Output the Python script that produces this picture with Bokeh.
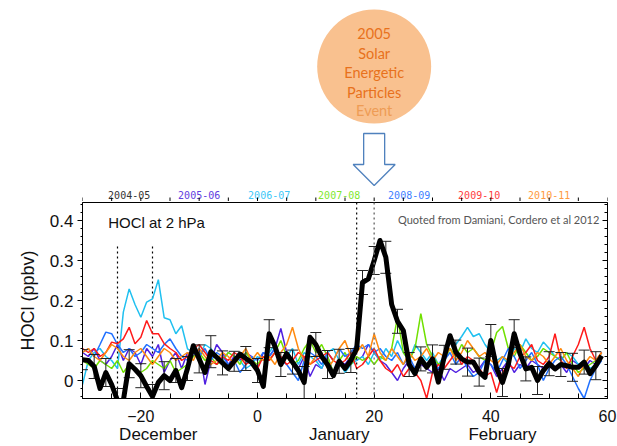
from bokeh.plotting import figure
from bokeh.models import (Range1d, LinearAxis, FixedTicker, SingleIntervalTicker, Label, Span,
                          CustomJSTickFormatter)
from bokeh.layouts import column
from bokeh.embed import file_html
from bokeh.resources import INLINE
from bokeh.core.properties import value

# ---------------- data ----------------
days = list(range(-30, 60))

hocl_2004_05 = [0.052, 0.050, 0.035, -0.020, 0.020, -0.010, -0.050, -0.050, 0.042, 0.028,
                0.012, -0.015, -0.040, -0.005, 0.012, 0.000, 0.025, -0.018, 0.030, 0.087,
                0.054, 0.020, 0.072, 0.058, 0.044, 0.030, 0.048, 0.066, 0.055, 0.045,
                0.025, -0.015, 0.117, 0.085, 0.040, 0.067, 0.046, 0.025, -0.005, 0.108,
                0.090, 0.060, 0.040, 0.012, 0.048, 0.030, 0.050, 0.080, 0.245, 0.254,
                0.300, 0.350, 0.308, 0.190, 0.148, 0.125, 0.040, 0.017, 0.054, 0.033,
                0.054, -0.004, 0.058, 0.112, 0.071, 0.054, 0.046, 0.046, 0.021, 0.008,
                0.100, 0.030, -0.005, 0.040, 0.117, 0.067, 0.029, 0.033, 0.000, 0.025,
                0.042, 0.029, 0.040, 0.037, 0.033, 0.033, 0.046, 0.017, 0.037, 0.062]

err_2004_05 = [0.025, 0, 0.03, 0, 0.035, 0, 0.03, 0, 0.035, 0,
               0.03, 0, 0.03, 0, 0.035, 0, 0.03, 0, 0.03, 0,
               0.035, 0, 0.04, 0, 0.03, 0, 0.025, 0, 0.03, 0,
               0.03, 0, 0.035, 0, 0.03, 0, 0.03, 0, 0.04, 0,
               0.03, 0, 0.035, 0, 0.03, 0, 0.03, 0, 0.03, 0,
               0.035, 0, 0.04, 0, 0.03, 0, 0.03, 0, 0.03, 0,
               0.035, 0, 0.03, 0, 0.03, 0, 0.035, 0, 0.035, 0,
               0.04, 0, 0.035, 0, 0.035, 0, 0.03, 0, 0.035, 0,
               0.03, 0, 0.03, 0, 0.035, 0, 0.03, 0, 0.035, 0]

hocl_2005_06 = [0.070, 0.060, 0.080, 0.050, 0.040, 0.060, 0.090, 0.050, 0.080, 0.070,
                0.040, 0.080, 0.060, 0.090, 0.020, 0.050, 0.070, 0.030, 0.070, 0.060,
                0.080, -0.010, 0.050, 0.090, 0.070, 0.040, 0.060, 0.050, 0.070, 0.060,
                0.030, 0.070, 0.060, 0.080, 0.130, 0.070, 0.050, 0.030, 0.060, 0.010,
                0.040, 0.030, 0.060, 0.020, 0.050, 0.040, 0.060, 0.050, 0.060, 0.090,
                0.070, 0.050, 0.040, 0.020, 0.000, 0.030, 0.050, 0.020, 0.040, 0.030,
                0.020, 0.030, 0.000, 0.030, 0.020, 0.030, 0.040, 0.020, 0.030, 0.050,
                0.040, 0.010, 0.030, 0.050, 0.020, 0.040, 0.030, 0.050, 0.040, 0.030,
                0.050, 0.030, 0.040, 0.020, 0.050, 0.040, 0.030, 0.050, 0.040, 0.060]

hocl_2006_07 = [-0.010, 0.050, 0.070, 0.080, 0.060, 0.050, 0.030, 0.171, 0.229, 0.190,
                0.158, 0.196, 0.204, 0.252, 0.157, 0.152, 0.117, 0.137, 0.079, 0.070,
                0.060, 0.090, 0.080, 0.060, 0.050, 0.070, 0.060, 0.050, 0.030, 0.040,
                0.060, 0.050, 0.070, 0.090, 0.050, 0.060, 0.080, 0.040, 0.070, 0.060,
                0.050, 0.030, 0.070, 0.080, 0.050, 0.020, 0.040, 0.050, 0.060, 0.040,
                0.070, 0.050, 0.080, 0.060, 0.100, 0.070, 0.050, 0.090, 0.070, 0.050,
                0.070, 0.040, 0.060, 0.104, 0.090, 0.110, 0.133, 0.110, 0.117, 0.090,
                0.070, 0.050, 0.060, 0.040, 0.080, 0.070, 0.104, 0.080, 0.070, 0.096,
                0.080, 0.060, 0.050, 0.070, 0.060, 0.040, 0.050, 0.030, 0.040, 0.070]

hocl_2007_08 = [0.050, 0.040, 0.030, 0.050, 0.040, 0.030, 0.050, 0.020, 0.040, 0.030,
                0.020, 0.030, 0.050, 0.040, 0.030, 0.050, 0.020, 0.030, 0.040, 0.060,
                0.070, 0.050, 0.060, 0.040, 0.050, 0.070, 0.060, 0.040, 0.070, 0.050,
                0.040, 0.060, 0.050, 0.070, 0.100, 0.060, 0.040, 0.050, 0.080, 0.100,
                0.070, 0.090, 0.060, 0.020, 0.050, 0.070, 0.040, 0.060, 0.050, 0.060,
                0.040, 0.060, 0.050, 0.080, 0.158, 0.070, 0.050, 0.080, 0.167, 0.090,
                0.060, 0.040, 0.050, 0.080, 0.060, 0.090, 0.070, 0.080, 0.060, 0.050,
                0.070, 0.120, 0.135, 0.080, 0.060, 0.090, 0.070, 0.050, 0.060, 0.080,
                0.070, 0.060, 0.050, 0.070, 0.040, 0.020, 0.030, 0.040, 0.050, 0.060]

hocl_2008_09 = [0.070, 0.080, 0.060, 0.090, 0.121, 0.117, 0.090, 0.070, 0.080, 0.060,
                0.070, 0.090, 0.080, 0.070, 0.090, 0.104, 0.080, 0.060, 0.050, 0.070,
                0.060, 0.080, 0.050, 0.070, 0.060, 0.040, 0.050, 0.020, 0.040, 0.060,
                0.050, 0.070, 0.060, 0.080, 0.050, 0.040, 0.020, 0.000, 0.050, 0.070,
                0.060, 0.040, 0.070, 0.050, 0.080, 0.060, 0.070, 0.090, 0.080, 0.090,
                0.070, 0.080, 0.060, 0.050, 0.070, 0.040, 0.060, 0.030, 0.050, 0.040,
                0.060, 0.030, 0.050, 0.070, 0.040, 0.060, 0.030, 0.010, 0.020, 0.050,
                0.040, 0.020, 0.050, 0.080, 0.060, 0.030, 0.050, 0.070, 0.040, 0.000,
                0.030, 0.050, 0.060, 0.040, 0.010, -0.020, -0.045, 0.000, 0.030, 0.050]

hocl_2009_10 = [0.080, 0.070, 0.080, 0.060, 0.070, 0.096, 0.092, 0.104, 0.133, 0.092,
                0.108, 0.150, 0.117, 0.117, 0.092, 0.080, 0.070, 0.050, 0.060, 0.080,
                0.090, 0.070, 0.050, 0.040, 0.060, 0.050, 0.070, 0.060, 0.040, 0.050,
                0.030, 0.060, 0.050, 0.070, 0.060, 0.040, 0.050, 0.070, 0.060, 0.040,
                0.050, 0.060, 0.070, 0.050, 0.040, 0.050, 0.070, 0.030, 0.040, 0.060,
                0.080, 0.050, 0.030, 0.020, 0.040, 0.010, 0.030, 0.020, 0.000, -0.045,
                0.020, 0.040, 0.030, 0.050, 0.070, 0.040, 0.060, 0.050, 0.030, 0.010,
                0.020, -0.030, 0.020, 0.040, 0.030, 0.060, 0.070, 0.090, 0.050, 0.040,
                0.060, 0.117, 0.050, 0.030, 0.060, 0.090, 0.133, 0.080, 0.050, 0.070]

hocl_2010_11 = [0.070, 0.080, 0.060, 0.050, 0.070, 0.090, 0.080, 0.060, 0.050, 0.070,
                0.080, 0.060, 0.040, 0.060, 0.080, 0.070, 0.050, 0.060, 0.070, 0.050,
                0.080, 0.060, 0.040, 0.050, 0.070, 0.060, 0.040, 0.060, 0.080, 0.050,
                0.070, 0.050, 0.060, 0.040, 0.070, 0.090, 0.133, 0.080, 0.050, 0.040,
                0.060, 0.070, 0.030, 0.050, 0.080, 0.100, 0.060, 0.070, 0.090, 0.060,
                0.117, 0.070, 0.050, 0.080, 0.060, 0.040, 0.070, 0.050, 0.060, 0.080,
                0.050, 0.070, 0.060, 0.080, 0.050, 0.070, 0.100, 0.080, 0.060, 0.070,
                0.050, 0.040, 0.060, 0.050, 0.070, 0.090, 0.060, 0.050, 0.070, 0.060,
                0.040, 0.060, 0.080, 0.050, 0.030, 0.010, 0.040, 0.060, 0.050, 0.070]

seasons = ["2004-05", "2005-06", "2006-07", "2007-08", "2008-09", "2009-10", "2010-11"]
season_label_x = [-22, -10, 2, 14, 26, 38, 50]
season_text_colors = ["#333333", "#6040e0", "#40c8f8", "#80e830", "#4080ff", "#ff4040", "#ff9a40"]
thin_series = [hocl_2005_06, hocl_2006_07, hocl_2007_08, hocl_2008_09, hocl_2009_10, hocl_2010_11]
thin_colors = ["#5020e0", "#20c0f0", "#70e000", "#2070ff", "#ff1a1a", "#ff8a10"]

month_names = ["December", "January", "February"]
month_x = [-17, 14, 42]

marker_days = [-24, -18]
marker_top = 0.335
full_marker_day = 17
sep_day = 20

event_lines = ["2005", "Solar", "Energetic", "Particles", "Event"]
event_colors = ["#e8711c", "#e8711c", "#e8711c", "#e8711c", "#ee9c55"]

FONT = "Liberation Sans"
X0, X1 = -30, 60
TOP_H = 201

# ---------------- main plot ----------------
xr = Range1d(X0, X1)
main = figure(x_range=xr, y_range=Range1d(-0.045, 0.445),
              frame_width=525, frame_height=196,
              min_border_left=82, min_border_right=10, min_border_top=1, min_border_bottom=0,
              toolbar_location=None, output_backend="svg")
main.grid.visible = False
main.outline_line_color = "black"
main.background_fill_color = "white"
main.border_fill_color = "white"

# left axis
ya = main.yaxis[0]
ya.ticker = SingleIntervalTicker(interval=0.1, num_minor_ticks=5)
ya.major_label_overrides = {0: "0"}
ya.major_label_text_font = FONT
ya.major_label_text_font_size = "17px"
ya.major_label_text_color = "#111111"
ya.major_tick_out = 5
ya.major_tick_in = 0
ya.minor_tick_out = 2
ya.minor_tick_in = 0
ya.major_label_standoff = 4
ya.axis_label = "HOCl (ppbv)"
ya.axis_label_text_font = FONT
ya.axis_label_text_font_size = "18px"
ya.axis_label_text_font_style = "normal"
ya.axis_label_text_color = "#111111"
ya.axis_label_standoff = 9

# bottom axis
xa = main.xaxis[0]
xa.ticker = SingleIntervalTicker(interval=20, num_minor_ticks=4)
xa.major_label_text_font = FONT
xa.major_label_text_font_size = "16px"
xa.major_label_text_color = "#111111"
xa.major_tick_in = 6
xa.major_tick_out = 0
xa.minor_tick_in = 5
xa.minor_tick_out = 0
xa.major_label_standoff = 11

month_axis = LinearAxis(ticker=FixedTicker(ticks=month_x),
                        major_label_overrides={m: n for m, n in zip(month_x, month_names)},
                        axis_line_color=None, major_tick_line_color=None, minor_tick_line_color=None,
                        major_tick_in=0, major_tick_out=0, major_label_standoff=0,
                        major_label_text_font=FONT, major_label_text_font_size="17px",
                        major_label_text_color="#111111")
main.add_layout(month_axis, "below")

right_axis = LinearAxis(ticker=SingleIntervalTicker(interval=0.1, num_minor_ticks=5),
                        formatter=CustomJSTickFormatter(code="return ''"), major_label_standoff=0,
                        major_tick_in=5, major_tick_out=0, minor_tick_in=3, minor_tick_out=0)
main.add_layout(right_axis, "right")

# event markers
main.segment(x0=marker_days, y0=[-0.045] * len(marker_days), x1=marker_days,
             y1=[marker_top] * len(marker_days), line_color="black", line_width=1.2, line_dash="2 3")
main.add_layout(Span(location=full_marker_day, dimension="height", line_color="black",
                     line_width=1.2, line_dash="2 3"))
main.add_layout(Span(location=sep_day, dimension="height", line_color="#777777",
                     line_width=1.5, line_dash="2 3"))

# other seasons
for vals, col in zip(thin_series, thin_colors):
    main.line(days, vals, line_color=col, line_width=1.5)

# error bars on 2004-05
ex = [d for d, e in zip(days, err_2004_05) if e > 0]
elo = [v - e for v, e in zip(hocl_2004_05, err_2004_05) if e > 0]
ehi = [v + e for v, e in zip(hocl_2004_05, err_2004_05) if e > 0]
main.segment(x0=ex, y0=elo, x1=ex, y1=ehi, line_color="#222222", line_width=1)
main.scatter(ex, ehi, marker="dash", size=11, line_color="#222222", line_width=1)
main.scatter(ex, elo, marker="dash", size=11, line_color="#222222", line_width=1)

main.line(days, hocl_2004_05, line_color="black", line_width=5, line_join="round")

main.add_layout(Label(x=-25.6, y=0.394, text="HOCl at 2 hPa", text_font=FONT,
                      text_font_size="15px", text_baseline="middle", text_color="#111111"))
main.add_layout(Label(x=58.6, y=0.402, text="Quoted from Damiani, Cordero et al 2012",
                      text_font="Lato", text_font_size="11px", text_baseline="middle",
                      text_align="right", text_color="#555555"))

# ---------------- top decoration (event bubble, arrow, season labels, top ticks) ----------------
top = figure(x_range=xr, y_range=Range1d(TOP_H, 0),
             frame_width=525, frame_height=TOP_H,
             min_border_left=82, min_border_right=10, min_border_top=0, min_border_bottom=0,
             x_axis_type=None, y_axis_type=None,
             toolbar_location=None, output_backend="svg")
top.grid.visible = False
top.outline_line_color = None
top.border_fill_color = "white"

top.scatter([sep_day], [66], marker="circle", size=114, fill_color="#f9c18f", line_color=None)
top.text(x=[sep_day] * len(event_lines), y=[33, 53, 72, 92, 110], text=event_lines,
         text_color=event_colors, text_align="center", text_baseline="middle",
         text_font=value("Lato"), text_font_size="14.5px")

pxu = 525 / float(X1 - X0)
top.patch(x=[sep_day - 10.5 / pxu, sep_day + 10.5 / pxu, sep_day + 10.5 / pxu, sep_day + 21 / pxu,
             sep_day, sep_day - 21 / pxu, sep_day - 10.5 / pxu],
          y=[133, 133, 164, 164, 185, 164, 164],
          fill_color="white", line_color="#4f81bd", line_width=1.3)

top.text(x=season_label_x, y=[194.5] * len(seasons), text=seasons, text_color=season_text_colors,
         text_align="center", text_baseline="middle",
         text_font=value("DejaVu Sans Mono"), text_font_size="10px")

# outward ticks of the top axis (every 5 days)
tick_days = list(range(X0, X1 + 1, 5))
top.segment(x0=tick_days, y0=[TOP_H - 4] * len(tick_days), x1=tick_days, y1=[TOP_H] * len(tick_days),
            line_color="black", line_width=1)

layout = column(top, main)
open("out.html", "w").write(file_html(layout, INLINE))
